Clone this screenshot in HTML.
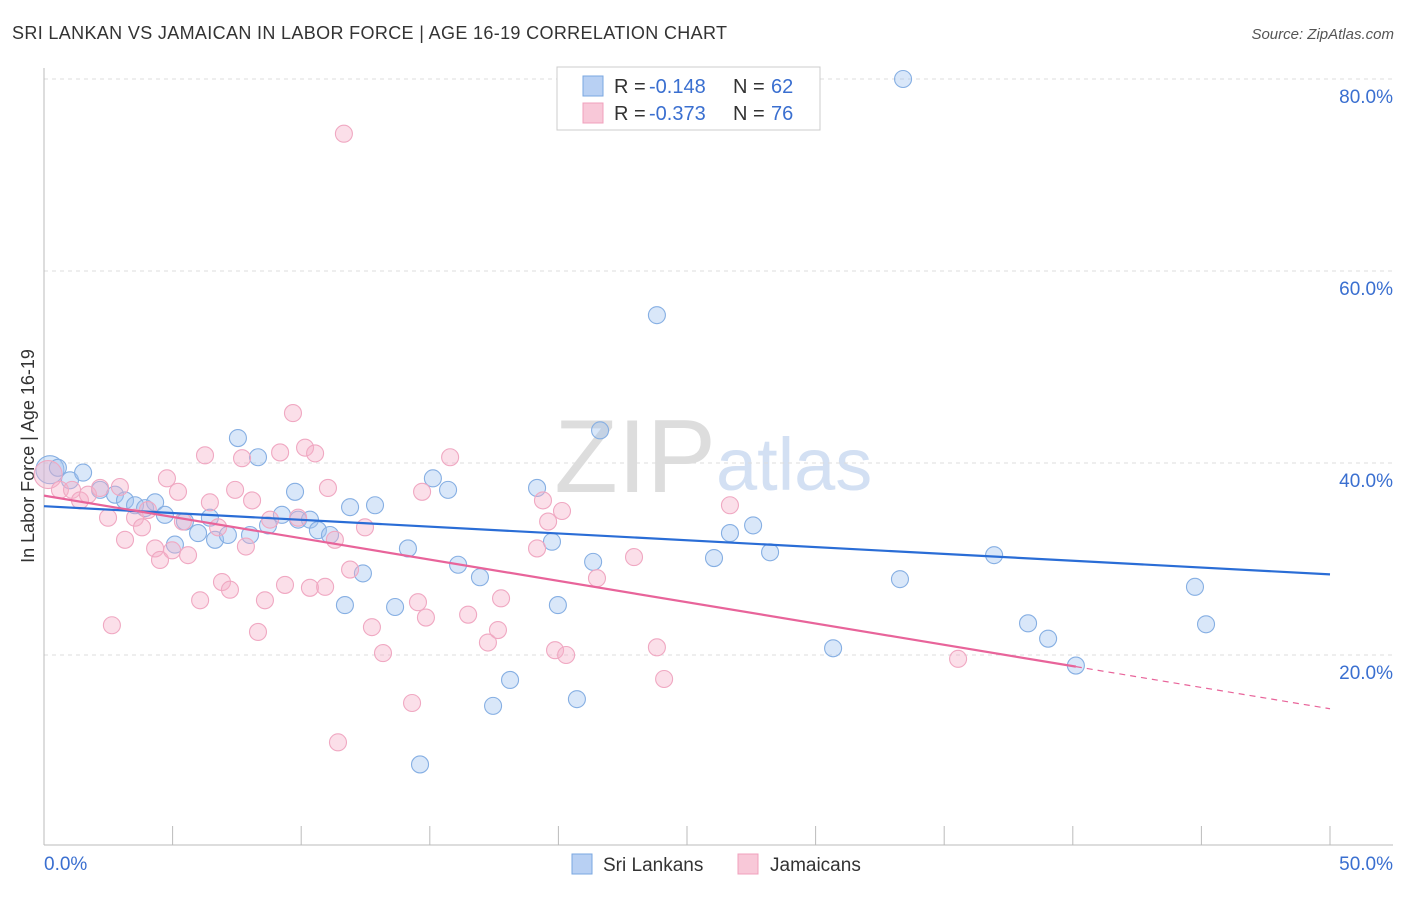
<!DOCTYPE html>
<html><head><meta charset="utf-8"><style>
body{margin:0;background:#fff;font-family:"Liberation Sans",sans-serif;}
svg text{font-family:"Liberation Sans",sans-serif;}
</style></head><body>
<svg id="chart" width="1406" height="892">
<text x="12" y="39" font-size="18" fill="#333" textLength="715" lengthAdjust="spacing">SRI LANKAN VS JAMAICAN IN LABOR FORCE | AGE 16-19 CORRELATION CHART</text>
<text x="1394" y="39" font-size="15" fill="#555" font-style="italic" text-anchor="end">Source: ZipAtlas.com</text>
<text x="716" y="492" font-size="104" font-family="Liberation Serif" fill="#ddd" text-anchor="end">ZIP</text>
<text x="716" y="490" font-size="74" fill="#d3e0f3">atlas</text>
<text x="34" y="456" font-size="18" fill="#333" text-anchor="middle" transform="rotate(-90 34 456)">In Labor Force | Age 16-19</text>
<g id="grid"></g><g id="axes"></g><g id="marks"></g><g id="trends"></g>
<g>
<rect x="557" y="67" width="263" height="63" fill="#fff" stroke="#ccc"/>
<rect x="583" y="76" width="20" height="20" fill="#b8d0f3" stroke="#7aa7e0"/>
<text x="614" y="93" font-size="20" fill="#333">R =</text>
<text x="649" y="93" font-size="20" fill="#3a6fd0">-0.148</text>
<text x="733" y="93" font-size="20" fill="#333">N =</text>
<text x="771" y="93" font-size="20" fill="#3a6fd0">62</text>
<rect x="583" y="103" width="20" height="20" fill="#f8c8d8" stroke="#f0a0bc"/>
<text x="614" y="120" font-size="20" fill="#333">R =</text>
<text x="649" y="120" font-size="20" fill="#3a6fd0">-0.373</text>
<text x="733" y="120" font-size="20" fill="#333">N =</text>
<text x="771" y="120" font-size="20" fill="#3a6fd0">76</text>
</g>
<g>
<rect x="572" y="854" width="20" height="20" fill="#b8d0f3" stroke="#7aa7e0"/>
<text x="603" y="871" font-size="19" fill="#333">Sri Lankans</text>
<rect x="738" y="854" width="20" height="20" fill="#f8c8d8" stroke="#f0a0bc"/>
<text x="770" y="871" font-size="19" fill="#333">Jamaicans</text>
</g>
</svg>
<script>
const yTicks=[20,40,60,80];
const yTickLabels=["20.0%","40.0%","60.0%","80.0%"];
const xTicks=[0,5,10,15,20,25,30,35,40,45,50];
const blueX=[.23,.54,1.01,1.52,2.18,2.76,3.15,3.54,3.93,4.32,4.70,5.09,5.48,5.99,6.45,6.65,7.15,7.54,8.01,8.32,8.71,9.25,9.76,9.88,10.34,10.65,11.12,11.70,11.90,12.40,12.87,13.65,14.15,14.62,15.12,15.71,16.10,16.95,17.46,18.12,19.17,19.75,19.98,20.72,21.35,21.62,23.09,23.83,26.05,26.67,27.57,28.23,30.68,33.28,33.40,36.94,38.26,39.04,40.12,44.75,45.18];
const blueY=[39.3,39.5,38.2,39.0,37.2,36.7,36.1,35.6,35.3,35.9,34.6,31.5,33.9,32.7,34.3,32.0,32.5,42.6,32.5,40.6,33.5,34.6,37.0,34.1,34.1,33.0,32.5,25.2,35.4,28.5,35.6,25.0,31.1,8.6,38.4,37.2,29.4,28.1,14.7,17.4,37.4,31.8,25.2,15.4,29.7,43.4,80.1,55.4,30.1,32.7,33.5,30.7,20.7,27.9,80.0,30.4,23.3,21.7,18.9,27.1,23.2];
const pinkX=[.16,.62,1.09,1.40,1.71,2.18,2.49,2.64,2.95,3.15,3.54,3.81,4.04,4.32,4.51,4.78,4.98,5.21,5.40,5.60,6.07,6.26,6.45,6.77,6.92,7.23,7.43,7.70,7.85,8.09,8.32,8.59,8.79,9.18,9.37,9.68,9.88,10.15,10.34,10.54,10.93,11.04,11.31,11.43,11.66,11.90,12.48,12.75,13.18,14.31,14.54,14.70,14.85,15.79,16.49,17.26,17.65,17.77,19.17,19.40,19.60,19.87,20.14,20.30,21.50,22.94,23.83,24.11,26.67,35.54];
const pinkY=[38.8,37.2,37.2,36.1,36.7,37.4,34.3,23.1,37.5,32.0,34.3,33.3,35.1,31.1,29.9,38.4,30.9,37.0,33.9,30.4,25.7,40.8,35.9,33.3,27.6,26.8,37.2,40.5,31.3,36.1,22.4,25.7,34.1,41.1,27.3,45.2,34.3,41.6,27.0,41.0,27.1,37.4,32.0,10.9,74.3,28.9,33.3,22.9,20.2,15.0,25.5,37.0,23.9,40.6,24.2,21.3,22.6,25.9,31.1,36.1,33.9,20.5,35.0,20.0,28.0,30.2,20.8,17.5,35.6,19.6];
const blueTrend=[35.5,28.4];
const pinkTrend=[36.6,14.4];
const pinkSolidEnd=40.12;

const X0=44,X1=1330,Y0=847,YS=9.6;
const sx=v=>X0+(X1-X0)*v/50;
const sy=v=>Y0-v*YS;
const NS="http://www.w3.org/2000/svg";
function mk(tag,attrs,parent){const e=document.createElementNS(NS,tag);for(const k in attrs)e.setAttribute(k,attrs[k]);document.getElementById(parent).appendChild(e);return e;}
yTicks.forEach((t,i)=>{
  const l=mk('line',{x1:44,x2:1393,y1:sy(t),y2:sy(t),stroke:'#ddd','stroke-dasharray':'4,4'},'grid');
  
  
  const tx=mk('text',{x:1393,y:sy(t)+24,'font-size':19,fill:'#3a6fd0','text-anchor':'end'},'grid');
  tx.textContent=yTickLabels[i];
  
  
});
const ax=mk('line',{x1:44,x2:1393,y1:845,y2:845,stroke:'#bbb'},'axes');


const ay=mk('line',{x1:44,x2:44,y1:68,y2:845,stroke:'#bbb'},'axes');


xTicks.forEach(t=>{
  const l=mk('line',{x1:sx(t),x2:sx(t),y1:826,y2:845,stroke:'#bbb'},'axes');
  
  
});
const xl0=mk('text',{x:44,y:870,'font-size':19,fill:'#3a6fd0'},'axes');xl0.textContent='0.0%';


const xl1=mk('text',{x:1393,y:870,'font-size':19,fill:'#3a6fd0','text-anchor':'end'},'axes');xl1.textContent='50.0%';


function dots(xs,ys,fill,stroke,name){
  xs.forEach((v,i)=>{
    const r=i===0?14:8.5;
    const c=mk('circle',{cx:sx(v),cy:sy(ys[i]),r:r,fill:fill,stroke:stroke,'stroke-width':1.1},'marks');
    
    
  });
}
dots(blueX,blueY,'rgba(160,195,240,0.4)','#86afe3','sri-lankan-point');
dots(pinkX,pinkY,'rgba(245,175,200,0.4)','#f0a8c2','jamaican-point');
const bt=mk('line',{x1:sx(0),y1:sy(blueTrend[0]),x2:sx(50),y2:sy(blueTrend[1]),stroke:'#2a6dd6','stroke-width':2.2},'trends');


const pAt=x=>pinkTrend[0]+(pinkTrend[1]-pinkTrend[0])*x/50;
const pt=mk('line',{x1:sx(0),y1:sy(pinkTrend[0]),x2:sx(pinkSolidEnd),y2:sy(pAt(pinkSolidEnd)),stroke:'#e8649a','stroke-width':2.2},'trends');


const pd=mk('line',{x1:sx(pinkSolidEnd),y1:sy(pAt(pinkSolidEnd)),x2:sx(50),y2:sy(pinkTrend[1]),stroke:'#e8649a','stroke-width':1.2,'stroke-dasharray':'6,5'},'trends');


</script>
</body></html>
